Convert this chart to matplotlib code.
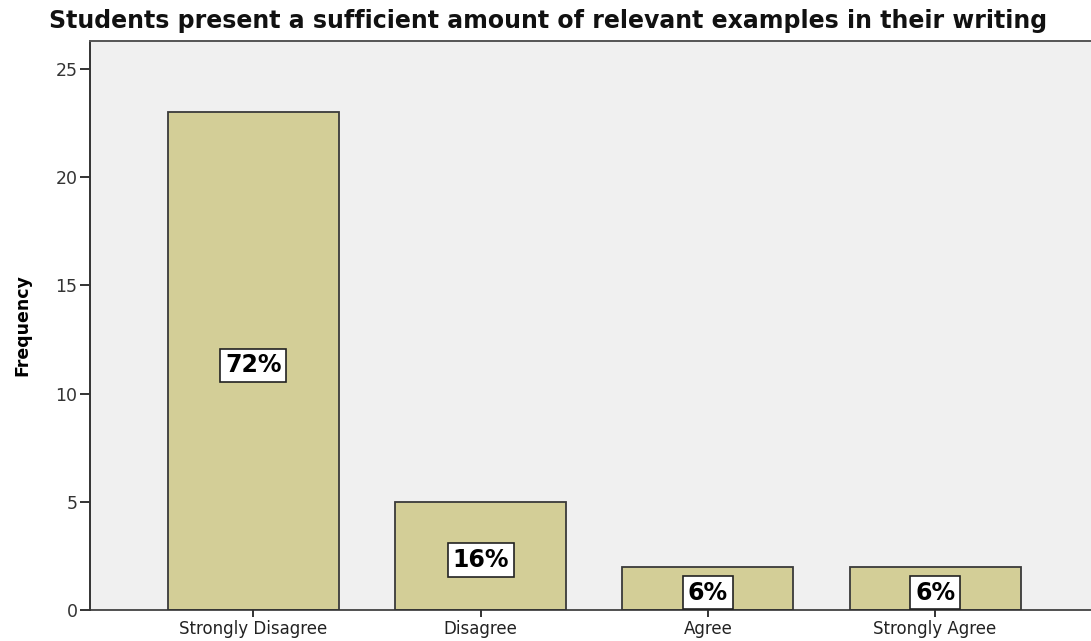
import numpy as np
import matplotlib
matplotlib.use("Agg")
import matplotlib.pyplot as plt

categories = ["Strongly Disagree", "Disagree", "Agree", "Strongly Agree"]
counts = [23, 5, 2, 2]
percent_labels = ["72%", "16%", "6%", "6%"]
y_ticks = [0, 5, 10, 15, 20, 25]

title = "Students present a sufficient amount of relevant examples in their writing"

W, H = 1091, 641
fig = plt.figure(figsize=(W / 100, H / 100), dpi=100)
fig.patch.set_facecolor("white")

# axes box in pixel coords: left 90, top 41, bottom 610, running off the right edge
ax = fig.add_axes([90 / W, (H - 610) / H, (W - 90) / W + 0.01, (610 - 41) / H])
ax.set_facecolor("#F0F0F0")

x = np.arange(len(categories))
ax.bar(x, counts, width=0.752, color="#D3CE97", edgecolor="#3A3A3A", linewidth=1.3, zorder=2)

for xi, c, lab in zip(x, counts, percent_labels):
    ax.annotate(lab, (xi, c / 2), xytext=(0, -3), textcoords="offset points",
                ha="center", va="center", fontsize=17, fontweight="bold", color="black",
                bbox=dict(boxstyle="square,pad=0.2", fc="white", ec="#222222", lw=1.2),
                zorder=3)

ax.set_xlim(-0.719, 3.684 + 0.05)
ax.set_ylim(0, 26.3)
ax.set_yticks(y_ticks)
ax.set_xticks(x)
ax.set_xticklabels(categories)

ax.spines["right"].set_visible(False)
ax.spines["left"].set_color("#333333")
ax.spines["left"].set_linewidth(1.4)
ax.spines["bottom"].set_color("#333333")
ax.spines["bottom"].set_linewidth(1.2)
ax.spines["top"].set_color("#555555")
ax.spines["top"].set_linewidth(1.4)

ax.tick_params(axis="y", direction="out", length=7, width=1.4, color="#333333",
               labelsize=12.5, labelcolor="#333333", pad=2)
ax.tick_params(axis="x", direction="out", length=5, width=1.4, color="#333333",
               labelsize=12, labelcolor="#222222", pad=2)

ax.set_ylabel("Frequency", fontsize=12.5, fontweight="bold")
ax.yaxis.set_label_coords(-58 / (W - 90), 0.5)

fig.text(548 / W, 1 - 21 / H, title, ha="center", va="center",
         fontsize=17, fontweight="bold", color="#111111")

fig.savefig("out.png", dpi=100, facecolor="white")
